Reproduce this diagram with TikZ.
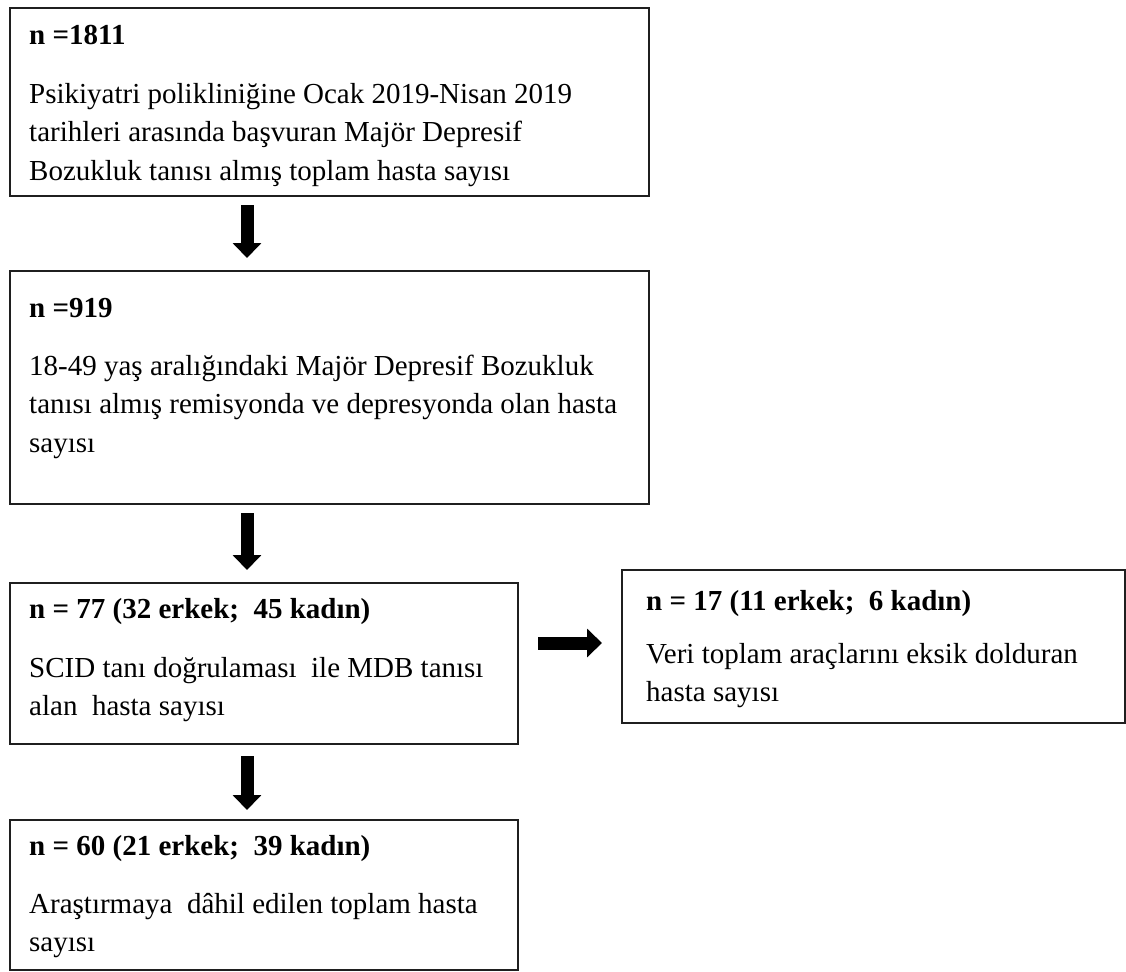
\documentclass[tikz,border=0pt]{standalone}
\usepackage{fontspec}
\setmainfont{Liberation Serif}
\usetikzlibrary{arrows.meta}
\begin{document}
\begin{tikzpicture}[x=1pt,y=-1pt,
  box/.style={draw=black!88, line width=2pt, inner sep=0pt, anchor=north west},
  txt/.style={anchor=base west, inner sep=0pt, font=\fontsize{29pt}{39pt}\selectfont},
  hdr/.style={anchor=base west, inner sep=0pt, font=\fontsize{29pt}{39pt}\selectfont\bfseries},
  bigarrow/.style={line width=13pt, -{Triangle[length=15pt,width=28pt]}}]
\useasboundingbox (0,0) rectangle (1126,971);
% boxes
\node[box, minimum width=639pt, minimum height=188pt] (b1) at (9,7) {};
\node[box, minimum width=639pt, minimum height=233pt] (b2) at (9,270) {};
\node[box, minimum width=508pt, minimum height=161pt] (b3) at (9,582) {};
\node[box, minimum width=503pt, minimum height=153pt] (b4) at (621,569) {};
\node[box, minimum width=508pt, minimum height=150pt] (b5) at (9,819) {};
% texts
\node[hdr] (h1) at (29,45) {n =1811};
\node[txt] (t1a) at (29,103) {Psikiyatri polikliniğine Ocak 2019-Nisan 2019};
\node[txt] (t1b) at (29,141.5) {tarihleri arasında başvuran Majör Depresif};
\node[txt] (t1c) at (29,180) {Bozukluk tanısı almış toplam hasta sayısı};
\node[hdr] (h2) at (29,317) {n =919};
\node[txt] (t2a) at (29,375) {18-49 yaş aralığındaki Majör Depresif Bozukluk};
\node[txt] (t2b) at (29,413.5) {tanısı almış remisyonda ve depresyonda olan hasta};
\node[txt] (t2c) at (29,452) {sayısı};
\node[hdr] (h3) at (29,618) {n = 77 (32 erkek;\ \ 45 kadın)};
\node[txt] (t3a) at (29,677) {SCID tanı doğrulaması\ \ ile MDB tanısı};
\node[txt] (t3b) at (29,715) {alan\ \ hasta sayısı};
\node[hdr] (h4) at (646,610) {n = 17 (11 erkek;\ \ 6 kadın)};
\node[txt] (t4a) at (646,663) {Veri toplam araçlarını eksik dolduran};
\node[txt] (t4b) at (646,701) {hasta sayısı};
\node[hdr] (h5) at (29,855) {n = 60 (21 erkek;\ \ 39 kadın)};
\node[txt] (t5a) at (29,913) {Araştırmaya\ \ dâhil edilen toplam hasta};
\node[txt] (t5b) at (29,951) {sayısı};
% arrows
\draw[bigarrow, shorten <=8pt, shorten >=12pt] ([xshift=238pt]b1.south west) -- ([xshift=238pt]b2.north west);
\draw[bigarrow, shorten <=8pt, shorten >=12pt] ([xshift=238pt]b2.south west) -- ([xshift=238pt]b3.north west);
\draw[bigarrow, shorten <=11pt, shorten >=9pt] ([xshift=238pt]b3.south west) -- ([xshift=238pt]b5.north west);
\draw[bigarrow, shorten <=19pt, shorten >=19pt] ([yshift=-61pt]b3.north east) -- ([yshift=-74pt]b4.north west);
\end{tikzpicture}
\end{document}
